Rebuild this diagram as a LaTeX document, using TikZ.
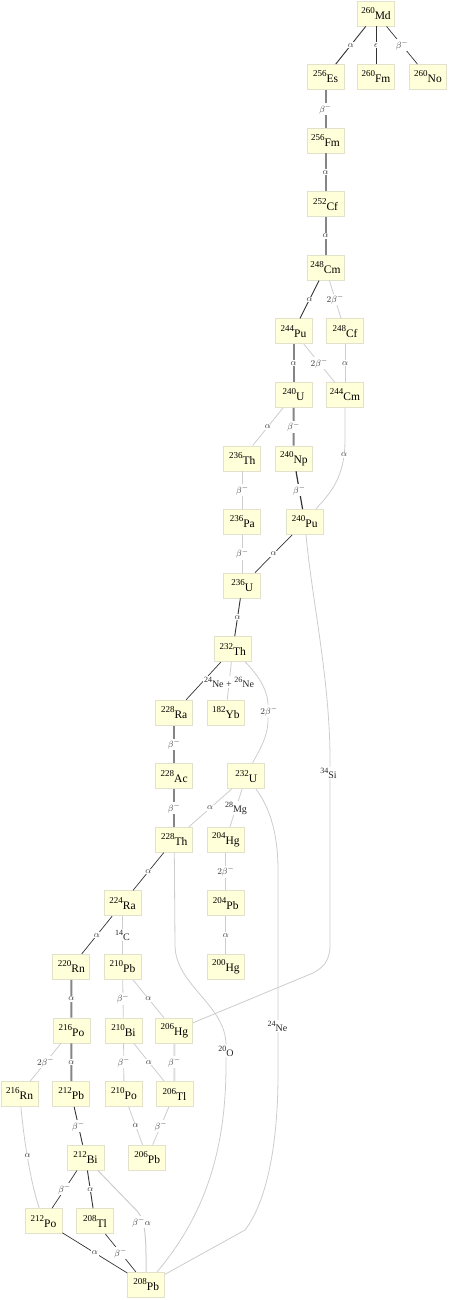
\documentclass[tikz,border=0pt]{standalone}
\usepackage{fontspec}
\setmainfont{Liberation Serif}
\usetikzlibrary{calc}
\definecolor{nodefill}{HTML}{FFFFDA}
\definecolor{nodeborder}{HTML}{E2E2CC}
\definecolor{lightedge}{HTML}{CCCCCC}
\definecolor{thickedge}{HTML}{858585}
\definecolor{darkedge}{HTML}{333333}
\definecolor{lbltext}{HTML}{3A3A3A}
\newcommand\nuc[2]{\raisebox{6pt}{\fontsize{9}{9}\selectfont #1}\fontsize{11.5}{12}\selectfont #2}
\newcommand\enuc[2]{\raisebox{5pt}{\fontsize{8}{8}\selectfont #1}\fontsize{10}{10}\selectfont #2}
\newcommand\bmi{$\beta^{-}$}
\tikzset{
  nucbox/.style={draw=nodeborder, fill=nodefill, line width=0.8pt, minimum width=37pt, minimum height=25pt, inner xsep=3pt, inner ysep=0pt},
  lbl/.style={fill=white, inner sep=1pt, text=lbltext, font=\fontsize{9.5}{10}\selectfont},
  elbl/.style={fill=white, inner sep=1pt, text=black!85},
  thk/.style={draw=thickedge, line width=2pt},
  drk/.style={draw=darkedge, line width=0.9pt},
  lgt/.style={draw=lightedge, line width=0.8pt}
}
\begin{document}
\begin{tikzpicture}[x=1pt,y=-1pt]
\useasboundingbox (0,0) rectangle (450,1300);
% nodes
\node[nucbox] (md260) at (376,13.5) {\nuc{260}{Md}};
\node[nucbox] (es256) at (325.5,77) {\nuc{256}{Es}};
\node[nucbox] (fm260) at (376,77) {\nuc{260}{Fm}};
\node[nucbox] (no260) at (428,77) {\nuc{260}{No}};
\node[nucbox] (fm256) at (325.5,140.6) {\nuc{256}{Fm}};
\node[nucbox] (cf252) at (325.5,204.2) {\nuc{252}{Cf}};
\node[nucbox] (cm248) at (325.5,267.7) {\nuc{248}{Cm}};
\node[nucbox] (pu244) at (293.5,331.3) {\nuc{244}{Pu}};
\node[nucbox] (cf248) at (345,331.3) {\nuc{248}{Cf}};
\node[nucbox] (u240) at (293.5,394.9) {\nuc{240}{U}};
\node[nucbox] (cm244) at (345,394.9) {\nuc{244}{Cm}};
\node[nucbox] (th236) at (242.3,458.4) {\nuc{236}{Th}};
\node[nucbox] (np240) at (293.8,458.4) {\nuc{240}{Np}};
\node[nucbox] (pa236) at (242.3,522) {\nuc{236}{Pa}};
\node[nucbox] (pu240) at (304.8,522) {\nuc{240}{Pu}};
\node[nucbox] (u236) at (242.3,585.5) {\nuc{236}{U}};
\node[nucbox] (th232) at (232.8,649.1) {\nuc{232}{Th}};
\node[nucbox] (ra228) at (174.2,712.7) {\nuc{228}{Ra}};
\node[nucbox] (yb182) at (225.8,712.7) {\nuc{182}{Yb}};
\node[nucbox] (ac228) at (174.2,776.2) {\nuc{228}{Ac}};
\node[nucbox] (u232) at (246.2,776.2) {\nuc{232}{U}};
\node[nucbox] (th228) at (174.2,839.8) {\nuc{228}{Th}};
\node[nucbox] (hg204) at (225.8,839.8) {\nuc{204}{Hg}};
\node[nucbox] (ra224) at (122.5,903.3) {\nuc{224}{Ra}};
\node[nucbox] (pb204) at (225.8,903.3) {\nuc{204}{Pb}};
\node[nucbox] (rn220) at (71.3,966.9) {\nuc{220}{Rn}};
\node[nucbox] (pb210) at (122.5,966.9) {\nuc{210}{Pb}};
\node[nucbox] (hg200) at (225.8,966.9) {\nuc{200}{Hg}};
\node[nucbox] (po216) at (71.5,1030.5) {\nuc{216}{Po}};
\node[nucbox] (bi210) at (123.5,1030.5) {\nuc{210}{Bi}};
\node[nucbox] (hg206) at (174.3,1030.5) {\nuc{206}{Hg}};
\node[nucbox] (rn216) at (19.7,1094) {\nuc{216}{Rn}};
\node[nucbox] (pb212) at (71.3,1094) {\nuc{212}{Pb}};
\node[nucbox] (po210) at (124,1094) {\nuc{210}{Po}};
\node[nucbox] (tl206) at (174.4,1094) {\nuc{206}{Tl}};
\node[nucbox] (bi212) at (85.5,1157.6) {\nuc{212}{Bi}};
\node[nucbox] (pb206) at (147.2,1157.6) {\nuc{206}{Pb}};
\node[nucbox] (po212) at (43.5,1221.1) {\nuc{212}{Po}};
\node[nucbox] (tl208) at (95,1221.1) {\nuc{208}{Tl}};
\node[nucbox] (pb208) at (146.2,1284.7) {\nuc{208}{Pb}};
% straight edges
\draw[drk] (md260) -- (es256);
\draw[drk] (md260) -- (fm260);
\draw[drk, line width=0.7pt] (md260) -- (no260);
\draw[thk] (es256) -- (fm256);
\draw[thk] (fm256) -- (cf252);
\draw[thk] (cf252) -- (cm248);
\draw[drk] (cm248) -- (pu244);
\draw[lgt] (cm248) -- (cf248);
\draw[thk] (pu244) -- (u240);
\draw[lgt] (pu244) -- (cm244);
\draw[lgt] (cf248) -- (cm244);
\draw[lgt] (u240) -- (th236);
\draw[thk] (u240) -- (np240);
\draw[lgt] (th236) -- (pa236);
\draw[drk, line width=1.2pt] (np240) -- (pu240);
\draw[lgt] (pa236) -- (u236);
\draw[drk, line width=0.7pt] (pu240) -- (u236);
\draw[drk] (u236) -- (th232);
\draw[drk, line width=0.7pt] (th232) -- (ra228);
\draw[lgt] (th232) -- (yb182);
\draw[thk] (ra228) -- (ac228);
\draw[thk] (ac228) -- (th228);
\draw[lgt] (u232) -- (th228);
\draw[lgt] (u232) -- (hg204);
\draw[drk, line width=0.7pt] (th228) -- (ra224);
\draw[lgt] (hg204) -- (pb204);
\draw[lgt] (pb204) -- (hg200);
\draw[drk, line width=0.7pt] (ra224) -- (rn220);
\draw[lgt] (ra224) -- (pb210);
\draw[thk] (rn220) -- (po216);
\draw[lgt] (pb210) -- (bi210);
\draw[lgt] (pb210) -- (hg206);
\draw[lgt] (po216) -- (rn216);
\draw[thk] (po216) -- (pb212);
\draw[lgt] (bi210) -- (po210);
\draw[lgt] (bi210) -- (tl206);
\draw[lgt, line width=2pt, draw=black!13] (hg206) -- (tl206);
\draw[drk] (pb212) -- (bi212);
\draw[lgt] (po210) -- (pb206);
\draw[lgt] (tl206) -- (pb206);
\draw[drk, line width=0.7pt] (bi212) -- (po212);
\draw[drk] (bi212) -- (tl208);
\draw[drk, line width=0.7pt] (po212) -- (pb208);
\draw[drk, line width=0.7pt] (tl208) -- (pb208);
% curved edges
\draw[lgt] (cm244) -- (345,440) .. controls (345,480) and (328,495) .. (pu240);
\draw[lgt] (pu240) .. controls (312,600) and (330,680) .. (330,760) -- (330,945) .. controls (330,962) and (322,968) .. (313,973) -- (hg206);
\draw[lgt] (th232) .. controls (255,672) and (268,688) .. (268,705) -- (268,720) .. controls (268,738) and (258,752) .. (u232);
\draw[lgt] (u232) .. controls (268,805) and (278,830) .. (278,870) -- (278,1075) .. controls (278,1140) and (268,1200) .. (245,1230) -- (pb208);
\draw[lgt] (th228) -- (175,945) .. controls (175,985) and (226,1005) .. (226,1045) -- (226,1065) .. controls (226,1150) and (205,1215) .. (pb208);
\draw[lgt, line width=1pt] (bi212) -- (138,1212) .. controls (146,1222) and (146,1240) .. (pb208);
\draw[lgt] (rn216) .. controls (24,1140) and (30,1180) .. (po212);
% labels
\node[lbl] (l01) at ($(md260)!.5!(es256)$) {$\alpha$};
\node[lbl] (l02) at ($(md260)!.5!(fm260)$) {$\epsilon$};
\node[lbl] (l03) at ($(md260)!.5!(no260)$) {\bmi};
\node[lbl] (l04) at ($(es256)!.5!(fm256)$) {\bmi};
\node[lbl] (l05) at ($(fm256)!.5!(cf252)$) {$\alpha$};
\node[lbl] (l06) at ($(cf252)!.5!(cm248)$) {$\alpha$};
\node[lbl] (l07) at ($(cm248)!.5!(pu244)$) {$\alpha$};
\node[lbl] (l08) at ($(cm248)!.5!(cf248)$) {$2\beta^{-}$};
\node[lbl] (l09) at ($(pu244)!.5!(u240)$) {$\alpha$};
\node[lbl] (l10) at ($(pu244)!.5!(cm244)$) {$2\beta^{-}$};
\node[lbl] (l11) at ($(cf248)!.5!(cm244)$) {$\alpha$};
\node[lbl] (l12) at ($(u240)!.5!(th236)$) {$\alpha$};
\node[lbl] (l13) at ($(u240)!.5!(np240)$) {\bmi};
\node[lbl] (l14) at (344,455) {$\alpha$};
\node[lbl] (l15) at ($(th236)!.5!(pa236)$) {\bmi};
\node[lbl] (l16) at ($(np240)!.5!(pu240)$) {\bmi};
\node[lbl] (l17) at ($(pa236)!.5!(u236)$) {\bmi};
\node[lbl] (l18) at ($(pu240)!.5!(u236)$) {$\alpha$};
\node[elbl] (l19) at (328.5,773) {\enuc{34}{Si}};
\node[lbl] (l20) at ($(u236)!.5!(th232)$) {$\alpha$};
\node[elbl] (l21) at (229,682) {\enuc{24}{Ne} + \enuc{26}{Ne}};
\node[lbl] (l22) at (269,711) {$2\beta^{-}$};
\node[lbl] (l23) at ($(ra228)!.5!(ac228)$) {\bmi};
\node[lbl] (l24) at ($(ac228)!.5!(th228)$) {\bmi};
\node[lbl] (l25) at ($(u232)!.5!(th228)$) {$\alpha$};
\node[elbl] (l26) at ($(u232)!.5!(hg204)$) {\enuc{28}{Mg}};
\node[elbl] (l27) at (277.5,1026) {\enuc{24}{Ne}};
\node[lbl] (l28) at ($(th228)!.5!(ra224)$) {$\alpha$};
\node[elbl] (l29) at (226,1051) {\enuc{20}{O}};
\node[lbl] (l30) at ($(hg204)!.5!(pb204)$) {$2\beta^{-}$};
\node[lbl] (l31) at ($(pb204)!.5!(hg200)$) {$\alpha$};
\node[lbl] (l32) at ($(ra224)!.5!(rn220)$) {$\alpha$};
\node[elbl] (l33) at ($(ra224)!.5!(pb210)$) {\enuc{14}{C}};
\node[lbl] (l34) at ($(rn220)!.5!(po216)$) {$\alpha$};
\node[lbl] (l35) at ($(pb210)!.5!(bi210)$) {\bmi};
\node[lbl] (l36) at ($(pb210)!.5!(hg206)$) {$\alpha$};
\node[lbl] (l37) at ($(po216)!.5!(rn216)$) {$2\beta^{-}$};
\node[lbl] (l38) at ($(po216)!.5!(pb212)$) {$\alpha$};
\node[lbl] (l39) at ($(bi210)!.5!(po210)$) {\bmi};
\node[lbl] (l40) at ($(bi210)!.5!(tl206)$) {$\alpha$};
\node[lbl] (l41) at ($(hg206)!.5!(tl206)$) {\bmi};
\node[lbl] (l42) at (27.5,1156) {$\alpha$};
\node[lbl] (l43) at ($(pb212)!.5!(bi212)$) {\bmi};
\node[lbl] (l44) at ($(po210)!.5!(pb206)$) {$\alpha$};
\node[lbl] (l45) at ($(tl206)!.5!(pb206)$) {\bmi};
\node[lbl] (l46) at ($(bi212)!.5!(po212)$) {\bmi};
\node[lbl] (l47) at ($(bi212)!.5!(tl208)$) {$\alpha$};
\node[lbl] (l48) at (141.5,1222) {$\beta^{-}\alpha$};
\node[lbl] (l49) at ($(po212)!.5!(pb208)$) {$\alpha$};
\node[lbl] (l50) at ($(tl208)!.5!(pb208)$) {\bmi};
\end{tikzpicture}
\end{document}
